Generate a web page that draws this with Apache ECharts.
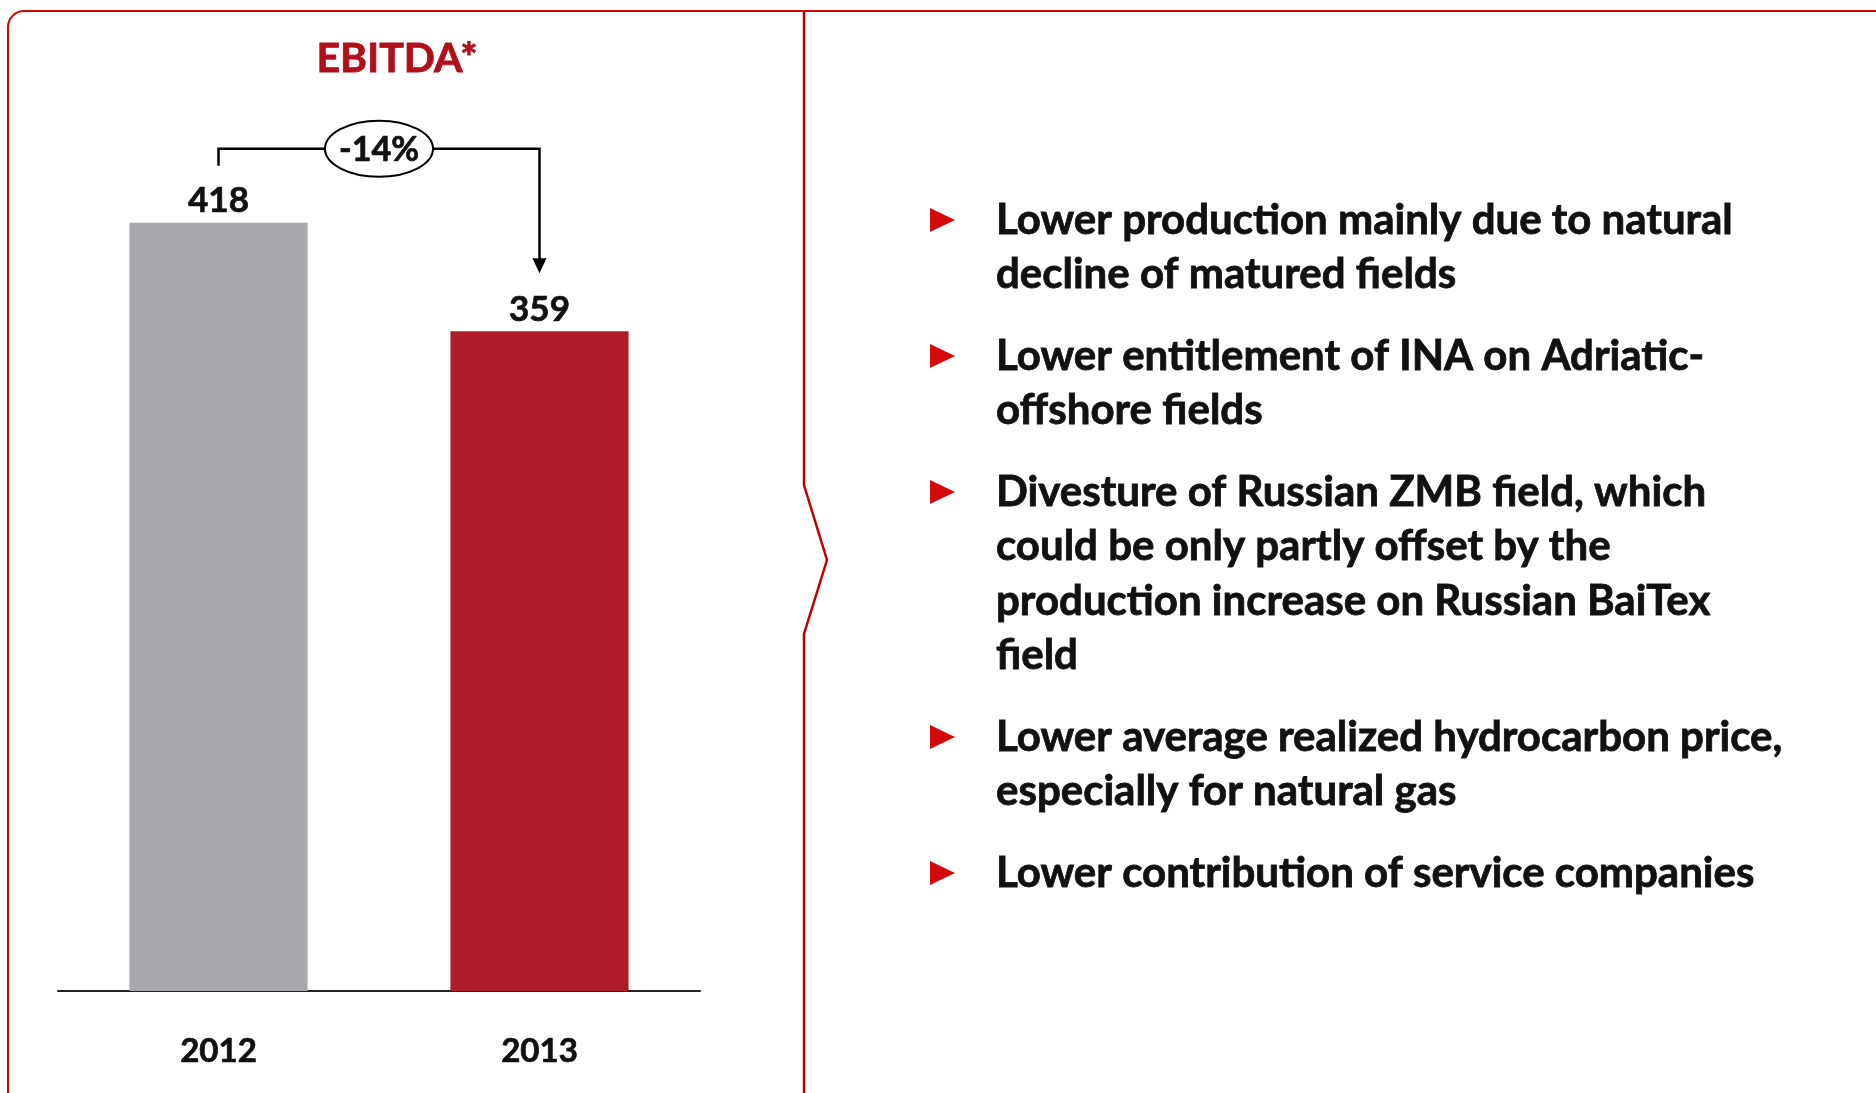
<!DOCTYPE html>
<html lang="en">
<head>
	<meta charset="UTF-8">
	<title>EBITDA</title>
	<style type="text/css">
	body,html{
		width: 100%;
		height: 100%;
		margin: 0;
		padding: 0;
		background: #fff;
	}
	#container{
		width: 1876px;
		height: 1093px;
	}
	</style>
</head>
<body>
	<div id="container"></div>
<script type="text/javascript" src="https://cdn.jsdelivr.net/npm/echarts@6/dist/echarts.min.js"></script>
<script type="text/javascript">
	var years = ['2012', '2013'];
	var ebitda = [418, 359];
	var barColors = ['#A8A9AD', '#AD1C28'];
	var bullets = [
		['Lower production mainly due to natural', 'decline of matured fields'],
		['Lower entitlement of INA on Adriatic-', 'offshore fields'],
		['Divesture of Russian ZMB field, which', 'could be only partly offset by the', 'production increase on Russian BaiTex', 'field'],
		['Lower average realized hydrocarbon price,', 'especially for natural gas'],
		['Lower contribution of service companies']
	];

	var FONT = 'Lato, "Open Sans", "Liberation Sans", sans-serif';
	var RED = '#CC0A0A';

	var chart = echarts.init(document.getElementById('container'));

	var option = {
		backgroundColor: '#fff',
		animation: false,
		title: {
			text: 'EBITDA*',
			left: 392,
			top: 33,
			textAlign: 'center',
			textStyle: {
				color: '#B0101A',
				fontFamily: FONT,
				fontWeight: 'bold',
				fontSize: 41,
				textBorderColor: '#B0101A',
				textBorderWidth: 0.8
			}
		},
		grid: {
			left: 58,
			width: 642,
			bottom: 102,
			top: 72
		},
		xAxis: {
			type: 'category',
			data: years,
			axisTick: { show: false },
			axisLine: { lineStyle: { color: '#222', width: 2 } },
			axisLabel: {
				margin: 44,
				color: '#111',
				fontFamily: FONT,
				fontWeight: 'bold',
				fontSize: 33,
				textBorderColor: '#111',
				textBorderWidth: 0.7
			}
		},
		yAxis: {
			type: 'value',
			min: 0,
			max: 500,
			show: false
		},
		series: [{
			type: 'bar',
			barWidth: '55.5%',
			data: ebitda.map(function (v, i) {
				return { value: v, itemStyle: { color: barColors[i] } };
			}),
			label: {
				show: true,
				position: 'top',
				distance: 4,
				color: '#111',
				fontFamily: FONT,
				fontWeight: 'bold',
				fontSize: 35,
				textBorderColor: '#111',
				textBorderWidth: 0.7
			}
		}]
	};
	chart.setOption(option);

	// bracket with percentage change, placed from the bar positions
	var p1 = chart.convertToPixel({ seriesIndex: 0 }, [0, ebitda[0]]);
	var p2 = chart.convertToPixel({ seriesIndex: 0 }, [1, ebitda[1]]);
	var topY = p1[1] - 74;
	var tipY = p2[1] - 58;
	var change = Math.round((ebitda[1] - ebitda[0]) / ebitda[0] * 100);
	var midX = (p1[0] + p2[0]) / 2;

	var graphics = [
		// frame
		{
			type: 'rect',
			shape: { x: 8, y: 11, width: 1920, height: 1110, r: 16 },
			style: { fill: null, stroke: RED, lineWidth: 2 },
			silent: true
		},
		{
			type: 'polyline',
			shape: { points: [[804, 11], [804, 485], [827, 560], [804, 634], [804, 1100]] },
			style: { fill: null, stroke: '#C00000', lineWidth: 2.5 },
			silent: true
		},
		{
			type: 'polyline',
			shape: { points: [[p1[0], p1[1] - 57], [p1[0], topY], [p2[0], topY], [p2[0], tipY - 14]] },
			style: { fill: null, stroke: '#000', lineWidth: 2.5 },
			z: 10
		},
		{
			type: 'polygon',
			shape: { points: [[p2[0] - 7, tipY - 15], [p2[0] + 7, tipY - 15], [p2[0], tipY]] },
			style: { fill: '#000' },
			z: 10
		},
		{
			type: 'ellipse',
			shape: { cx: midX, cy: topY, rx: 54, ry: 28 },
			style: { fill: '#fff', stroke: '#000', lineWidth: 2 },
			z: 11
		},
		{
			type: 'text',
			x: midX,
			y: topY + 1,
			style: {
				text: change + '%',
				align: 'center',
				verticalAlign: 'middle',
				fill: '#111',
				stroke: '#111',
				lineWidth: 0.7,
				font: 'bold 34px ' + FONT
			},
			z: 12
		}
	];

	// bullet list on the right
	var lineH = 54.5;
	var gap = 27;
	var baseline = 233;
	bullets.forEach(function (lines) {
		var cy = baseline - 13;
		graphics.push({
			type: 'polygon',
			shape: { points: [[930, cy - 12], [955, cy], [930, cy + 12]] },
			style: { fill: '#D40A0A' }
		});
		graphics.push({
			type: 'text',
			x: 996,
			y: baseline - 13 - lineH / 2,
			style: {
				text: lines.join('\n'),
				lineHeight: lineH,
				align: 'left',
				verticalAlign: 'top',
				fill: '#111',
				stroke: '#111',
				lineWidth: 0.8,
				font: 'bold 42px ' + FONT
			}
		});
		baseline += lines.length * lineH + gap;
	});

	chart.setOption({ graphic: graphics });
	window.addEventListener('resize', function () {
		chart.resize();
	});
</script>
</body>
</html>
